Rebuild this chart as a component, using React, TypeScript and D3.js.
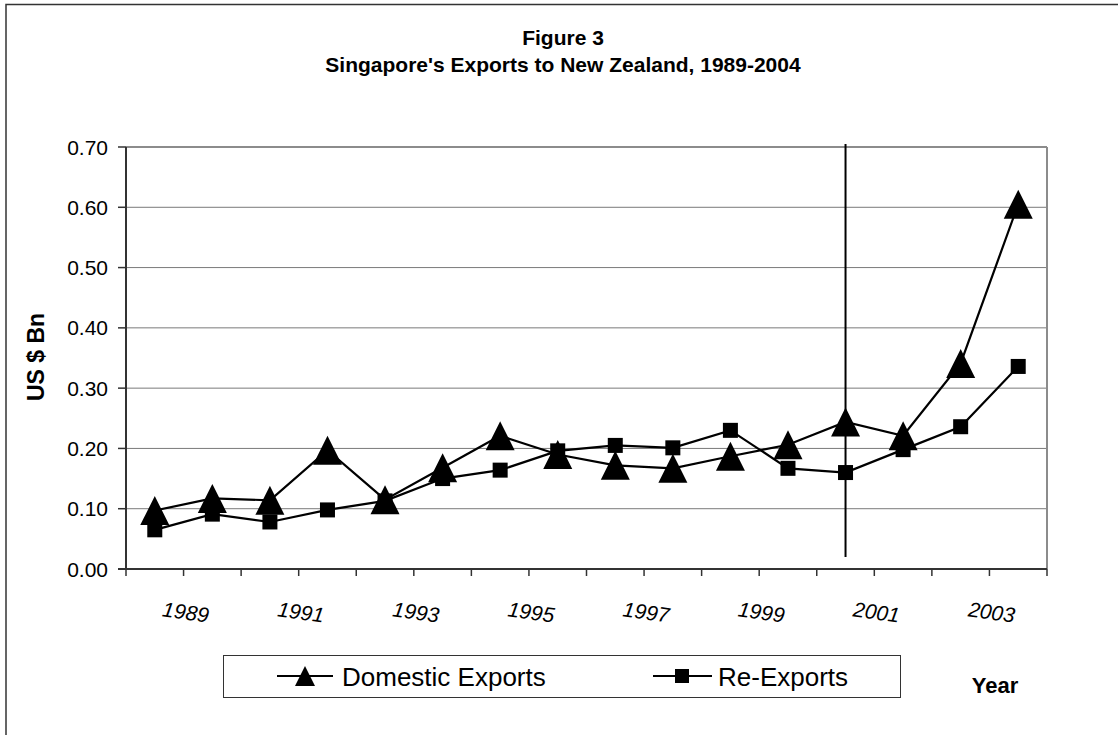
import React from 'react';
import * as d3 from 'd3';

const years = ['1989','1990','1991','1992','1993','1994','1995','1996','1997','1998','1999','2000','2001','2002','2003','2004'];
const domesticExports = [0.097,0.117,0.114,0.197,0.115,0.168,0.221,0.190,0.172,0.167,0.187,0.206,0.244,0.221,0.341,0.605];
const reExports = [0.065,0.091,0.078,0.098,0.113,0.150,0.164,0.196,0.205,0.201,0.230,0.167,0.160,0.198,0.236,0.336];
const yTicks = [0,0.1,0.2,0.3,0.4,0.5,0.6,0.7];
const xLabelYears = ['1989','1991','1993','1995','1997','1999','2001','2003'];
const markerYear = '2001';
const markerRange = [0.02, 0.705];
const seriesNames = ['Domestic Exports', 'Re-Exports'];
const titleLines = ['Figure 3', "Singapore's Exports to New Zealand, 1989-2004"];

const FONT = "'Liberation Sans', Arial, sans-serif";
const W = 1118, H = 735;
const L = 126, R = 1047, T = 147, B = 569;

const tri = (s: number) => `M0,${-s / 2}L${s / 2},${s / 2}L${-s / 2},${s / 2}Z`;

export default function App() {
  const x = d3.scaleBand<string>().domain(years).range([L, R]).padding(0);
  const y = d3.scaleLinear().domain([0, 0.7]).range([B, T]);
  const cx = (yr: string) => (x(yr) as number) + x.bandwidth() / 2;
  const line = d3.line<number>().x((_, i) => cx(years[i])).y((v) => y(v));
  const boundaries = d3.range(years.length + 1).map((i) => L + i * x.bandwidth());

  return (
    <svg width={W} height={H} style={{ position: 'absolute', left: 0, top: 0, background: '#fff' }} fontFamily={FONT}>
      <rect x={6} y={4.5} width={1300} height={900} fill="none" stroke="#333" strokeWidth={1.5} />
      {/* titles */}
      <text x={563} y={45} textAnchor="middle" fontWeight="bold" fontSize={21}>{titleLines[0]}</text>
      <text x={563} y={72} textAnchor="middle" fontWeight="bold" fontSize={21}>{titleLines[1]}</text>
      {/* gridlines */}
      {yTicks.filter((t) => t > 0 && t < 0.7).map((t) => (
        <line key={t} x1={L} x2={R} y1={y(t)} y2={y(t)} stroke="#7a7a7a" strokeWidth={1} />
      ))}
      {/* plot border top & right */}
      <line x1={L} x2={R} y1={y(0.7)} y2={y(0.7)} stroke="#8c8c8c" strokeWidth={2} />
      <line x1={R} x2={R} y1={y(0.7)} y2={B} stroke="#8c8c8c" strokeWidth={2} />
      {/* axes */}
      <line x1={L} x2={L} y1={T} y2={B} stroke="#333" strokeWidth={2} />
      <line x1={L - 8} x2={R} y1={B} y2={B} stroke="#333" strokeWidth={2} />
      {yTicks.map((t) => (
        <g key={'yt' + t}>
          <line x1={L - 8} x2={L} y1={y(t)} y2={y(t)} stroke="#333" strokeWidth={1.5} />
          <text x={108} y={y(t)} textAnchor="end" dominantBaseline="central" fontSize={21}>{t.toFixed(2)}</text>
        </g>
      ))}
      {boundaries.map((bx, i) => (
        <line key={'xt' + i} x1={bx} x2={bx} y1={B} y2={B + 7} stroke="#333" strokeWidth={1.5} />
      ))}
      {xLabelYears.map((yr) => (
        <text key={yr} transform={`translate(${cx(yr) + 31},${612}) rotate(8)`} textAnchor="middle" dominantBaseline="central" fontSize={21} fontStyle="italic">{yr}</text>
      ))}
      <text transform={`translate(36,357) rotate(-90)`} textAnchor="middle" dominantBaseline="central" fontWeight="bold" fontSize={23}>US $ Bn</text>
      <text x={995} y={685} textAnchor="middle" dominantBaseline="central" fontWeight="bold" fontSize={22}>Year</text>
      {/* marker vertical line */}
      <line x1={cx(markerYear)} x2={cx(markerYear)} y1={y(markerRange[0])} y2={y(markerRange[1])} stroke="#000" strokeWidth={2} />
      {/* series */}
      <path d={line(reExports) as string} fill="none" stroke="#000" strokeWidth={2.2} />
      <path d={line(domesticExports) as string} fill="none" stroke="#000" strokeWidth={2.2} />
      {reExports.map((v, i) => (
        <rect key={'s' + i} x={cx(years[i]) - 7.5} y={y(v) - 7.5} width={15} height={15} fill="#000" />
      ))}
      {domesticExports.map((v, i) => (
        <path key={'t' + i} d={tri(29)} transform={`translate(${cx(years[i])},${y(v)})`} fill="#000" />
      ))}
      {/* legend */}
      <rect x={223.5} y={655.5} width={677} height={42} fill="#fff" stroke="#333" strokeWidth={1} />
      <line x1={277} x2={333} y1={676} y2={676} stroke="#000" strokeWidth={2} />
      <path d={tri(20)} transform="translate(305,676)" fill="#000" />
      <text x={342} y={677} dominantBaseline="central" fontSize={26}>{seriesNames[0]}</text>
      <line x1={653} x2={712} y1={676} y2={676} stroke="#000" strokeWidth={2} />
      <rect x={675} y={669} width={14} height={14} fill="#000" />
      <text x={718} y={677} dominantBaseline="central" fontSize={26}>{seriesNames[1]}</text>
    </svg>
  );
}
